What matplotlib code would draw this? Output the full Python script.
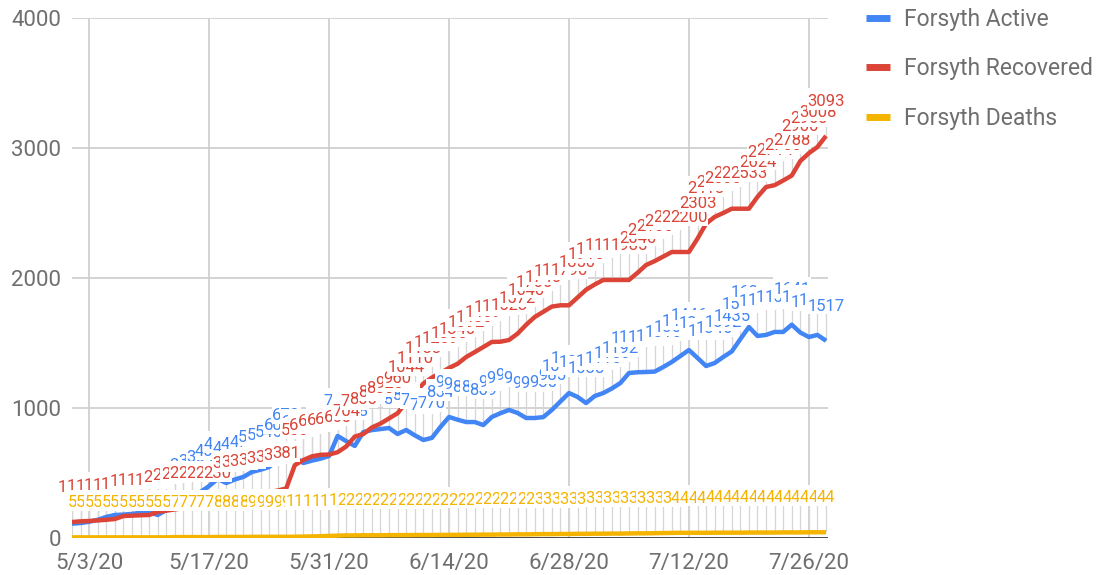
import numpy as np
import pandas as pd
import matplotlib
matplotlib.use("Agg")
import matplotlib.pyplot as plt
import matplotlib.dates as mdates
from matplotlib.path import Path

plt.rcParams["font.family"] = ["Roboto", "DejaVu Sans"]

# %% data (daily, 5/1/20 - 7/28/20)
dates = pd.date_range("2020-05-01", "2020-07-28", freq="D")

active = [
    110, 115, 125, 140, 162, 177, 180, 185, 195, 200,
    177, 215, 254, 290, 320, 354, 400, 454, 423, 450,
    470, 508, 525, 546, 600, 672, 623, 577, 595, 610,
    631, 785, 745, 708, 815, 830, 838, 846, 800, 831,
    790, 754, 770, 854, 931, 910, 892, 892, 869, 931,
    960, 985, 962, 923, 923, 930, 985, 1050, 1115, 1085,
    1038, 1092, 1115, 1150, 1192, 1269, 1275, 1277, 1280, 1315,
    1354, 1400, 1446, 1385, 1323, 1346, 1392, 1435, 1530, 1623,
    1554, 1562, 1585, 1585, 1641, 1580, 1546, 1562, 1517,
]
recovered = [
    123, 128, 131, 135, 140, 146, 169, 172, 175, 177,
    200, 210, 220, 229, 230, 230, 230, 230, 303, 310,
    318, 330, 345, 352, 365, 381, 560, 600, 628, 640,
    642, 660, 704, 780, 800, 850, 880, 920, 960, 1044,
    1110, 1188, 1234, 1269, 1308, 1340, 1392, 1430, 1469, 1508,
    1510, 1523, 1572, 1640, 1700, 1740, 1780, 1790, 1790, 1850,
    1910, 1950, 1985, 1985, 1985, 1985, 2040, 2100, 2130, 2165,
    2200, 2200, 2200, 2303, 2418, 2470, 2500, 2533, 2533, 2533,
    2624, 2700, 2714, 2750, 2788, 2900, 2960, 3008, 3093,
]
deaths = [
    5, 5, 5, 5, 5, 5, 5, 5, 5, 5, 5, 5,
    7, 7, 7, 7, 7, 8, 8, 8, 8, 9, 9, 9, 9, 9,
    10, 11, 12, 14, 16, 18,
    20, 20, 21, 21, 21, 22, 22, 22, 23, 23, 23, 24, 24, 24, 25, 25,
    26, 26, 27, 27, 28, 28, 29,
    30, 30, 31, 31, 32, 32, 33, 33, 34, 34, 35, 36, 36, 37, 38, 39,
    40, 40, 40, 40, 41, 41, 41, 41, 42, 42, 42, 42, 43, 43, 43, 44, 44, 44,
]

series_names = ["Forsyth Active", "Forsyth Recovered", "Forsyth Deaths"]
series_colors = ["#4285f4", "#db4437", "#f4b400"]
y_ticks = [0, 1000, 2000, 3000, 4000]
x_tick_dates = dates[2::14]


def tall_box(x0, y0, width, height, mutation_size):
    # label background: tight left/right, extra room above the digits
    px = 0.02 * mutation_size
    x1, y1 = x0 - px, y0 - 0.05 * mutation_size
    x2, y2 = x0 + width + px, y0 + height + 0.32 * mutation_size
    return Path([(x1, y1), (x2, y1), (x2, y2), (x1, y2), (x1, y1)],
                [Path.MOVETO, Path.LINETO, Path.LINETO, Path.LINETO, Path.CLOSEPOLY])


# %%
text_gray = "#6f6f6f"
fig = plt.figure(figsize=(11.08, 5.75), dpi=100)
ax = fig.add_axes([72 / 1108, 37 / 575, 756 / 1108, 520 / 575])

x = mdates.date2num(dates)
ax.set_xlim(x[0], x[0] + 88.23)
ax.set_ylim(0, 4000)

label_dy = 40 * 4000 / 520  # 40 px above the point, in data units

for k, (vals, name, col) in enumerate(zip([active, recovered, deaths], series_names, series_colors)):
    vals = np.array(vals)
    # leader lines from data label down to the point
    ax.vlines(x, vals, vals + label_dy, color="#d6d6d6", lw=0.9, zorder=1)
    ax.plot(x, vals, color=col, lw=3.2, label=name, zorder=3 + k * 0.1, solid_capstyle="butt")

for k, (vals, col) in enumerate(zip([active, recovered, deaths], series_colors)):
    for j, v in enumerate(vals):
        ax.annotate(
            str(v), xy=(x[j], v), xytext=(0, 25), textcoords="offset points",
            ha="center", va="center", fontsize=12, color=col,
            bbox=dict(boxstyle=tall_box, fc="white", ec="none"),
            zorder=5 + k,
        )

ax.axhline(0, color="#333333", lw=1.2, zorder=2)

ax.set_yticks(y_ticks)
ax.set_yticklabels([str(t) for t in y_ticks])
ax.set_xticks(mdates.date2num(x_tick_dates))
ax.set_xticklabels([f"{d.month}/{d.day}/{d.year % 100}" for d in x_tick_dates])
ax.tick_params(axis="both", length=0, labelsize=16, colors=text_gray)
ax.tick_params(axis="y", pad=8)
ax.tick_params(axis="x", pad=11)
ax.grid(True, color="#cccccc", lw=1.2, zorder=0)
ax.set_axisbelow(True)
for s in ax.spines.values():
    s.set_visible(False)

leg = fig.legend(
    loc="upper left", bbox_to_anchor=(866 / 1108, 1 - 8 / 575), frameon=False,
    borderpad=0, borderaxespad=0,
    fontsize=16.5, handlelength=1.05, handletextpad=0.62, labelspacing=1.15,
    labelcolor=text_gray,
)
for h in leg.get_lines():
    h.set_linewidth(5)

plt.savefig("out.png", dpi=100)
